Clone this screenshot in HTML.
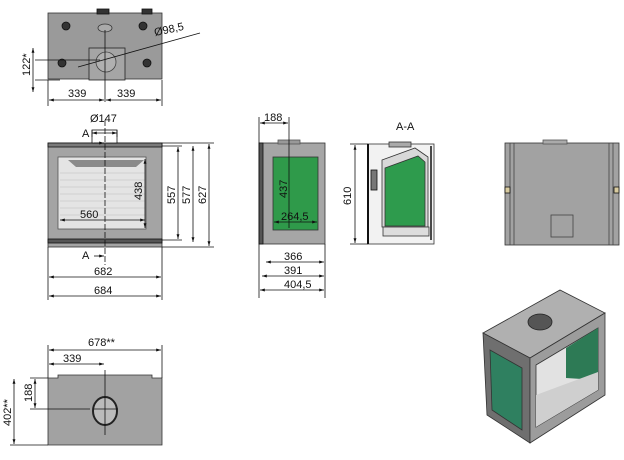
<!DOCTYPE html>
<html><head><meta charset="utf-8"><style>
body{margin:0;background:#fff}
svg{display:block}
text{font-family:"Liberation Sans",sans-serif;font-size:11px;fill:#111}
</style></head><body>
<svg width="624" height="460" viewBox="0 0 624 460" xmlns="http://www.w3.org/2000/svg">
<defs>
<marker id="a" viewBox="0 0 10 10" refX="10" refY="5" markerWidth="6" markerHeight="6" orient="auto-start-reverse"><path d="M0,2L10,5L0,8z" fill="#111"/></marker>
</defs>
<g stroke="#111" stroke-width="0.8" fill="none">
<!-- TOP VIEW -->
<rect x="48" y="13" width="114" height="66" fill="#9a9a9a" stroke="#333"/>
<rect x="97" y="9" width="12" height="5" fill="#333"/>
<rect x="142" y="9" width="10" height="5" fill="#333"/>
<rect x="89" y="48" width="36" height="32" fill="#a5a5a5" stroke="#222"/>
<circle cx="106" cy="62" r="10" fill="#b0b0b0" stroke="#444"/>
<ellipse cx="105" cy="28" rx="7" ry="4" fill="#aaa" stroke="#333"/>
<circle cx="66" cy="26" r="4" fill="#333"/><circle cx="143" cy="26" r="4" fill="#333"/>
<circle cx="62" cy="63" r="4" fill="#333"/><circle cx="147" cy="63" r="4" fill="#333"/>
<line x1="105" y1="30" x2="105" y2="102"/>
<line x1="35" y1="60" x2="100" y2="60"/>
<line x1="35" y1="80" x2="60" y2="80"/>
<line x1="33" y1="48" x2="33" y2="92" marker-start="url(#a)" marker-end="url(#a)"/>
<line x1="48" y1="80" x2="48" y2="106"/><line x1="162" y1="80" x2="162" y2="106"/>
<line x1="49" y1="100" x2="104" y2="100" marker-start="url(#a)" marker-end="url(#a)"/>
<line x1="106" y1="100" x2="161" y2="100" marker-start="url(#a)" marker-end="url(#a)"/>
<line x1="78" y1="67" x2="200" y2="33"/>
<!-- FRONT VIEW -->
<rect x="48" y="143" width="114" height="104" fill="#a4a4a4" stroke="#333"/>
<rect x="48" y="143" width="114" height="4" fill="#7a7a7a"/>
<rect x="48" y="239" width="114" height="4" fill="#555"/>
<rect x="92" y="130" width="25" height="13" fill="#fff"/>
<rect x="58" y="157" width="88" height="72" fill="#e4e4e4" stroke="#555"/>
<path d="M68,160L144,160L136,167L76,167z" fill="#8a8a8a" stroke="none"/>
<g stroke="#bbb" stroke-width="0.6">
<line x1="60" y1="173" x2="145" y2="173"/><line x1="60" y1="180" x2="145" y2="180"/><line x1="60" y1="187" x2="145" y2="187"/><line x1="60" y1="194" x2="145" y2="194"/><line x1="60" y1="201" x2="145" y2="201"/><line x1="60" y1="208" x2="145" y2="208"/><line x1="60" y1="215" x2="145" y2="215"/>
</g>
<line x1="105" y1="120" x2="105" y2="265" stroke-dasharray="6,2"/>
<line x1="92" y1="130" x2="92" y2="137"/><line x1="117" y1="130" x2="117" y2="137"/>
<line x1="92" y1="133" x2="117" y2="133" marker-start="url(#a)" marker-end="url(#a)"/>
<line x1="94" y1="143" x2="104" y2="143" marker-end="url(#a)"/>
<line x1="94" y1="256" x2="104" y2="256" marker-end="url(#a)"/>
<line x1="60" y1="220" x2="145" y2="220" marker-start="url(#a)" marker-end="url(#a)"/>
<line x1="145" y1="159" x2="145" y2="228" marker-start="url(#a)" marker-end="url(#a)"/>
<line x1="162" y1="146" x2="182" y2="146"/><line x1="162" y1="240" x2="182" y2="240"/>
<line x1="178" y1="147" x2="178" y2="239" marker-start="url(#a)" marker-end="url(#a)"/>
<line x1="193" y1="146" x2="193" y2="242" marker-start="url(#a)" marker-end="url(#a)"/>
<line x1="162" y1="143" x2="214" y2="143"/><line x1="162" y1="247" x2="214" y2="247"/>
<line x1="209" y1="144" x2="209" y2="246" marker-start="url(#a)" marker-end="url(#a)"/>
<line x1="48" y1="247" x2="48" y2="300"/><line x1="162" y1="247" x2="162" y2="300"/>
<line x1="49" y1="277" x2="161" y2="277" marker-start="url(#a)" marker-end="url(#a)"/>
<line x1="49" y1="296" x2="161" y2="296" marker-start="url(#a)" marker-end="url(#a)"/>
<!-- SIDE VIEW -->
<rect x="259" y="143" width="66" height="101" fill="#a6a6a6" stroke="#333"/>
<rect x="259" y="143" width="4" height="101" fill="#555"/>
<rect x="278" y="140" width="22" height="4" fill="#999" stroke="#555"/>
<rect x="273" y="157" width="45" height="73" fill="#2f9a4a" stroke="#333"/>
<line x1="289" y1="117" x2="289" y2="228"/>
<line x1="259" y1="117" x2="259" y2="298"/>
<line x1="260" y1="123" x2="288" y2="123" marker-start="url(#a)" marker-end="url(#a)"/>
<line x1="274" y1="222" x2="317" y2="222" marker-start="url(#a)" marker-end="url(#a)"/>
<line x1="325" y1="244" x2="325" y2="298"/>
<line x1="266" y1="262" x2="324" y2="262" marker-start="url(#a)" marker-end="url(#a)"/>
<line x1="262" y1="276" x2="324" y2="276" marker-start="url(#a)" marker-end="url(#a)"/>
<line x1="260" y1="290" x2="324" y2="290" marker-start="url(#a)" marker-end="url(#a)"/>
<!-- SECTION A-A -->
<rect x="368" y="144" width="66" height="100" fill="#f2f2f2" stroke="#333"/>
<rect x="389" y="142" width="22" height="5" fill="#aaa" stroke="#333"/>
<path d="M382,160L415,148L428,157L428,227L382,227z" fill="#d8d8d8" stroke="#333"/>
<path d="M385,168L418,156L425,162L425,226L385,226z" fill="#2e9b4d" stroke="#333"/>
<rect x="383" y="227" width="46" height="9" fill="#ddd" stroke="#333"/>
<rect x="371" y="170" width="6" height="20" fill="#777"/>
<line x1="368" y1="144" x2="368" y2="244" stroke-width="2"/>
<line x1="431" y1="146" x2="431" y2="240" stroke-width="1.5"/>
<line x1="350" y1="144" x2="368" y2="144"/><line x1="350" y1="244" x2="368" y2="244"/>
<line x1="355" y1="145" x2="355" y2="243" marker-start="url(#a)" marker-end="url(#a)"/>
<!-- BACK VIEW -->
<rect x="505" y="143" width="114" height="102" fill="#a2a2a2" stroke="#333"/>
<rect x="543" y="140" width="24" height="4" fill="#aaa" stroke="#555"/>
<line x1="510" y1="143" x2="510" y2="245" stroke="#444"/><line x1="514" y1="143" x2="514" y2="245" stroke="#444"/>
<line x1="609" y1="143" x2="609" y2="245" stroke="#444"/><line x1="613" y1="143" x2="613" y2="245" stroke="#444"/>
<rect x="551" y="215" width="22" height="22" stroke="#444"/>
<rect x="505" y="187" width="5" height="6" fill="#d8cba0"/><rect x="614" y="187" width="5" height="6" fill="#d8cba0"/>
<!-- BOTTOM VIEW -->
<path d="M48,378L58,378L58,375L152,375L152,378L162,378L162,445L48,445z" fill="#a2a2a2" stroke="#333"/>
<ellipse cx="105" cy="411" rx="12" ry="14" fill="#bbb" stroke="#222" stroke-width="2"/>
<line x1="94" y1="409" x2="118" y2="409"/>
<line x1="105" y1="370" x2="105" y2="435"/>
<line x1="48" y1="345" x2="48" y2="378"/><line x1="162" y1="345" x2="162" y2="378"/>
<line x1="49" y1="350" x2="161" y2="350" marker-start="url(#a)" marker-end="url(#a)"/>
<line x1="49" y1="364" x2="104" y2="364" marker-start="url(#a)" marker-end="url(#a)"/>
<line x1="30" y1="378" x2="48" y2="378"/><line x1="30" y1="409" x2="90" y2="409"/><line x1="10" y1="445" x2="48" y2="445"/>
<line x1="35" y1="379" x2="35" y2="408" marker-start="url(#a)" marker-end="url(#a)"/>
<line x1="14" y1="379" x2="14" y2="444" marker-start="url(#a)" marker-end="url(#a)"/>
<!-- ISOMETRIC -->
<path d="M483,333L560,290L605,313L530,358z" fill="#b0b0b0" stroke="#333"/>
<path d="M483,333L530,358L530,443L487,415z" fill="#6f6f6f" stroke="#333"/>
<path d="M530,358L605,313L605,395L530,443z" fill="#9c9c9c" stroke="#333"/>
<path d="M490,350L522,368L522,430L492,410z" fill="#2f8060" stroke="#333"/>
<path d="M536,365L598,328L598,390L536,427z" fill="#e2e2e2" stroke="#333"/>
<path d="M566,348L598,328L598,380L566,378z" fill="#2d7a55" stroke="none"/>
<path d="M536,395L598,372L598,390L536,427z" fill="#cfcfcf" stroke="none"/>
<ellipse cx="540" cy="322" rx="12" ry="8" fill="#555" stroke="#222"/>
</g>
<text x="155" y="36" transform="rotate(-12 155 36)">Ø98,5</text>
<text x="30" y="76" transform="rotate(-90 30 76)">122*</text>
<text x="68" y="97">339</text><text x="117" y="97">339</text>
<text x="90" y="122">Ø147</text>
<text x="82" y="137" font-size="8">A</text><text x="82" y="259" font-size="8">A</text>
<text x="80" y="218">560</text>
<text x="142" y="200" transform="rotate(-90 142 200)">438</text>
<text x="175" y="204" transform="rotate(-90 175 204)">557</text>
<text x="190" y="204" transform="rotate(-90 190 204)">577</text>
<text x="206" y="204" transform="rotate(-90 206 204)">627</text>
<text x="94" y="275">682</text><text x="94" y="294">684</text>
<text x="264" y="121">188</text>
<text x="287" y="198" transform="rotate(-90 287 198)">437</text>
<text x="281" y="220">264,5</text>
<text x="284" y="260">366</text><text x="284" y="274">391</text><text x="284" y="288">404,5</text>
<text x="396" y="130" font-size="8">A-A</text>
<text x="351" y="205" transform="rotate(-90 351 205)">610</text>
<text x="88" y="346">678**</text>
<text x="63" y="362">339</text>
<text x="32" y="402" transform="rotate(-90 32 402)">188</text>
<text x="11" y="426" transform="rotate(-90 11 426)">402**</text>
</svg>
</body></html>
